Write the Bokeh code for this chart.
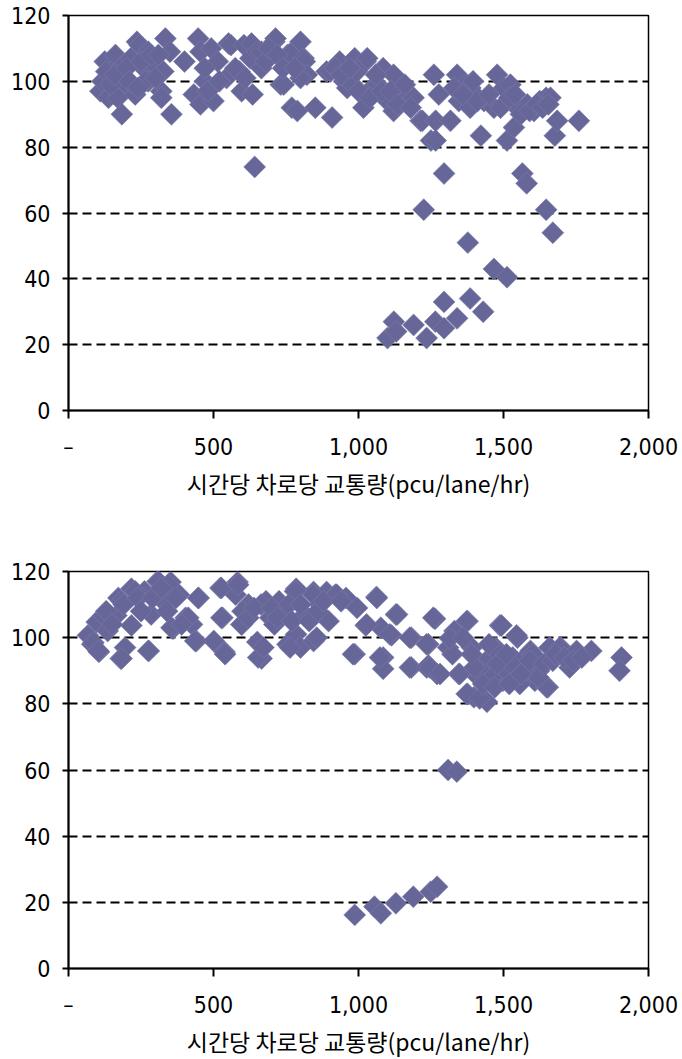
import math
from bokeh.plotting import figure
from bokeh.layouts import column
from bokeh.models import Range1d, FixedTicker, ColumnDataSource
from bokeh.embed import file_html
from bokeh.resources import INLINE

# ---------------- data: top chart ----------------
top_x = [110, 125, 117, 138, 150, 162, 170, 175, 184, 190, 200, 215, 230, 236, 245, 260, 275, 275, 297,
         320, 320, 327, 334, 350, 355, 400, 432, 447, 455, 455, 470, 492, 500, 515, 545, 552, 560, 590,
         597, 605, 627, 631, 635, 642, 651, 665, 665, 710, 714, 732, 742, 755, 765, 770, 789, 800, 811,
         815, 822, 800, 851, 890, 903, 909, 935, 950, 961, 980, 987, 995, 1017, 1025, 1030, 1047, 1066,
         1085, 1100, 1121, 1121, 1145, 1168, 1190, 1214, 1220, 1225, 1250, 1260, 1266, 1266, 1277, 1295,
         1317, 1340, 1346, 1370, 1377, 1386, 1400, 1385, 1422, 1433, 1467, 1478, 1501, 1512, 1524, 1536,
         1547, 1565, 1580, 1582, 1605, 1625, 1647, 1647, 1662, 1670, 1677, 1685, 1760,
         130, 145, 160, 200, 210, 250, 265, 285, 300, 310, 240, 470, 480, 520, 575, 610, 680, 690, 720,
         740, 780, 920, 940, 970, 1000, 1040, 1060, 1080, 1110, 1135, 1160, 1180, 1330, 1360, 1395,
         1410, 1450, 1490, 1520, 1540, 1560, 1590, 1615, 1635, 1655,
         1100, 1122, 1130, 1190, 1235, 1265, 1295, 1295, 1340, 1385, 1430, 1467, 1512]
top_y = [97, 106, 100, 95, 103, 108, 95, 101, 90, 105, 99, 107, 96, 112, 111, 104, 109, 100, 105,
         97, 95, 103, 113, 109, 90, 106, 96, 113, 109, 93, 100, 110, 94, 106, 101, 111.5, 111, 103,
         97, 111, 107, 111.5, 96, 74, 109, 104, 109, 112, 113, 99, 99, 108, 108.5, 92, 91, 112, 107,
         106, 102, 101, 92, 103, 103, 89, 106, 100, 98, 99, 107, 103, 92, 106, 107, 98, 99,
         104, 94, 102, 91, 97, 95, 95, 88, 88, 61, 82, 102, 88, 82, 96, 72,
         88, 102, 94, 99, 51, 98, 96, 92, 83.5, 94, 92, 102, 98, 82, 99, 86,
         92, 72, 69, 93, 91, 94, 95, 61, 95, 54, 83.5, 88, 88,
         103, 99, 102, 104, 100, 106, 100, 108, 101, 108, 98, 104, 97, 100, 104, 101, 106, 110, 108,
         104, 104, 104, 102, 104, 97, 95, 102, 97, 97, 93, 99, 92, 98, 96, 100,
         94, 96, 92, 95, 96, 90, 91, 93, 92, 93,
         22, 27, 24, 26, 22, 27, 25, 33, 28, 34, 30, 43, 40.5]

# ---------------- data: bottom chart ----------------
bot_x = [67, 82, 105, 97, 120, 135, 172, 180, 195, 165, 217, 217, 262, 285, 277, 307, 330, 352, 360,
         381, 404, 426, 449, 441, 501, 524, 531, 538, 583, 576, 598, 621, 651, 666, 681, 696, 726, 741,
         755, 785, 785, 800, 815, 845, 845, 867, 890, 897, 920, 957, 995, 1025, 987, 1062, 1077, 1085,
         1085, 1114, 1129, 1182, 1182, 1241, 1241, 1264, 1271, 1309, 1331, 1324, 1346, 1376, 1376, 1398,
         1391, 1413, 1443, 1443, 1473, 1488, 1503, 1526, 1548, 1563, 1593, 1608, 1623, 1653, 1660, 1698,
         1728, 1758, 1803, 1907, 1900,
         86, 103, 183, 275, 183, 230, 310, 344, 447, 413, 355, 437, 540, 527, 596, 527, 585, 654, 664,
         781, 844, 925, 1063, 1133, 1258, 981, 1074, 1177, 1177, 1235, 1235, 672, 764, 856, 1028, 1108,
         1373, 1493, 1545, 1315, 1246, 1281, 1349, 1373, 1418, 1442, 1476, 1498, 1532, 1580, 1601, 1649,
         1659, 1694, 1752, 1614, 1442, 1498, 1556,
         1420, 1460, 1480, 1510, 1520, 1540, 1570, 1590, 1620, 1640, 1670, 1680, 1710, 1740, 1770, 1450,
         1400, 1390, 1360, 1430, 1470, 1520, 1560,
         130, 150, 190, 240, 250, 290, 320, 340, 370, 390, 600, 620, 640, 700, 710, 720, 760, 770, 800,
         830, 860, 880, 940,
         1309, 1339, 987, 1055, 1077, 1129, 1189, 1249, 1271]
bot_y = [100.7, 98, 95.7, 104.7, 106.7, 102, 112, 93.7, 97, 106.7, 114.8, 103.7, 114, 107, 96, 117, 110.8,
         116.8, 102.7, 113, 106, 104, 112, 99, 99, 115, 106, 95.7, 116.8, 113, 104, 110, 98.7, 93.7, 111,
         106, 111, 107, 98, 114.8, 101, 97, 107, 113.8, 99, 110, 113.8, 105, 113, 112, 109, 103.7, 95,
         112.3, 103, 94, 90.6, 100.7, 107, 100, 91, 98, 91.6, 105.7, 89, 97, 102, 95, 89, 105, 83, 82,
         97, 88, 80.6, 93, 97, 103.7, 92, 88, 100, 93, 96, 87, 90, 85, 97, 97,
         91, 95, 96, 94, 90,
         98.5, 96, 93.7, 96, 111, 114, 117, 116, 112, 106, 103, 99, 95, 106, 104, 115, 116, 94, 110,
         114, 113, 113, 112, 107, 106, 95, 94, 100, 91, 98, 91, 97, 97, 100, 104, 101,
         105, 103.7, 100.7, 99.8, 91, 89, 89, 83, 81.6, 93, 96, 91, 94, 89, 95, 85,
         97, 97, 96, 91, 87, 87, 86,
         90, 88, 92, 95, 89, 91, 90, 93, 88, 92, 93, 95, 94, 93, 94, 98,
         91, 95, 100, 86, 85, 86, 89,
         108, 104, 110, 112, 108, 112, 115, 108, 112, 104, 108, 106, 109, 109, 104, 106, 110, 105, 110,
         105, 108, 111, 111,
         60, 59.5, 16.2, 18.7, 16.7, 19.7, 21.7, 23.2, 24.7]

x_ticks = [0, 500, 1000, 1500, 2000]
x_tick_labels = ["\u2013", "500", "1,000", "1,500", "2,000"]
y_ticks = [0, 20, 40, 60, 80, 100, 120]
y_tick_labels = ["0", "20", "40", "60", "80", "100", "120"]
x_title = "시간당 차로당 교통량(pcu/lane/hr)"

MARKER = "#666699"
TICK_FONT = "'Liberation Sans Narrow', 'DejaVu Sans Condensed', 'Liberation Sans', sans-serif"
LABEL_FONT = "'Noto Sans CJK KR', sans-serif"


def make_fig(xs, ys, frame_h, top, bottom):
    p = figure(frame_width=580, frame_height=frame_h, output_backend="svg", toolbar_location=None,
               x_range=Range1d(0, 2000), y_range=Range1d(0, 120),
               min_border_left=68, min_border_right=34, min_border_top=top,
               min_border_bottom=bottom)
    p.background_fill_color = "white"
    p.border_fill_color = "white"
    p.outline_line_color = "black"
    p.outline_line_width = 1.5
    p.xgrid.visible = False
    p.ygrid.ticker = FixedTicker(ticks=y_ticks)
    p.ygrid.grid_line_color = "black"
    p.ygrid.grid_line_width = 2
    p.ygrid.grid_line_dash = "9 5"

    src = ColumnDataSource(dict(x=xs, y=ys))
    p.scatter("x", "y", source=src, marker="square", size=15.5, angle=math.pi / 4,
              fill_color=MARKER, line_color="#7c7cab", line_width=0.6)

    xa = p.xaxis[0]
    xa.ticker = FixedTicker(ticks=x_ticks)
    xa.major_label_overrides = {t: l for t, l in zip(x_ticks, x_tick_labels)}
    xa.axis_line_width = 2
    xa.major_tick_line_width = 2
    xa.major_tick_in = 0
    xa.major_tick_out = 8
    xa.minor_tick_line_color = None
    xa.major_label_standoff = 15
    xa.major_label_text_font = TICK_FONT
    xa.major_label_text_font_size = "23px"
    xa.major_label_text_color = "black"
    xa.axis_label = x_title
    xa.axis_label_text_font = LABEL_FONT
    xa.axis_label_text_font_size = "23px"
    xa.axis_label_text_font_style = "normal"
    xa.axis_label_text_color = "black"
    xa.axis_label_standoff = 3

    ya = p.yaxis[0]
    ya.ticker = FixedTicker(ticks=y_ticks)
    ya.major_label_overrides = {t: l for t, l in zip(y_ticks, y_tick_labels)}
    ya.axis_line_width = 2
    ya.major_tick_line_width = 2
    ya.major_tick_in = 0
    ya.major_tick_out = 6
    ya.minor_tick_line_color = None
    ya.major_label_standoff = 12
    ya.major_label_text_font = TICK_FONT
    ya.major_label_text_font_size = "23px"
    ya.major_label_text_color = "black"
    return p


p1 = make_fig(top_x, top_y, 395, 15, 120)
p2 = make_fig(bot_x, bot_y, 397, 41, 91)

layout = column(p1, p2, spacing=0)
open("out.html", "w").write(file_html(layout, INLINE))
